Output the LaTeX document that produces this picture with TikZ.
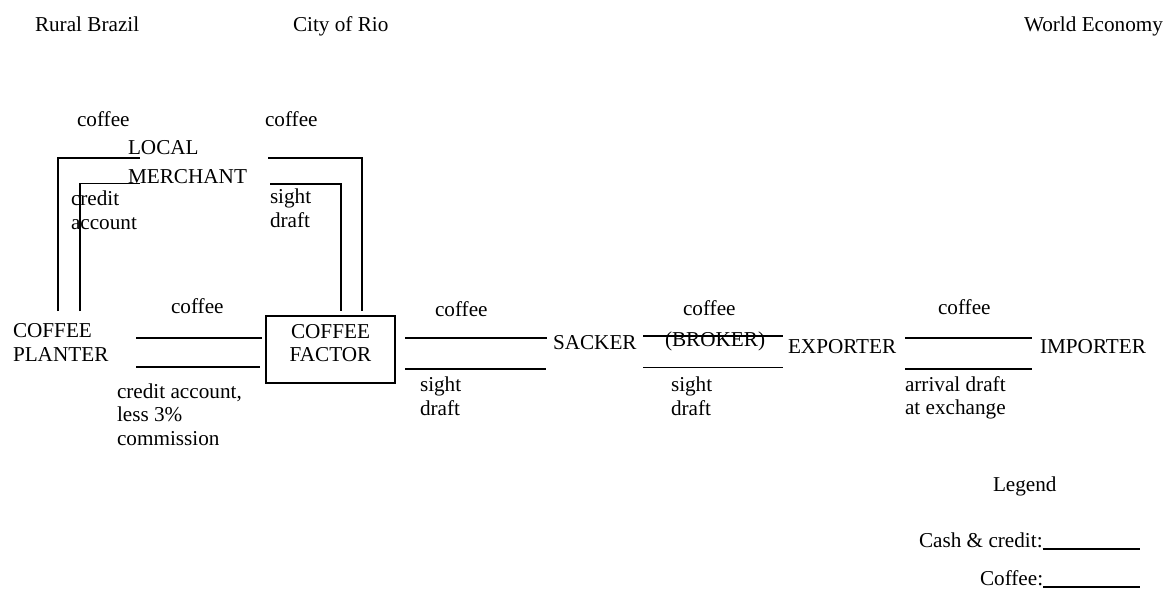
\documentclass[tikz,border=0pt]{standalone}
\usepackage{fontspec}
\setmainfont{Liberation Serif}
\begin{document}
\begin{tikzpicture}[x=1pt,y=-1pt,
  every node/.style={inner sep=0pt,outer sep=0pt,font=\fontsize{21.2}{23.3}\selectfont},
  lbl/.style={anchor=base west,align=left},
  flow/.style={line width=1.6pt,line cap=butt},
  factorbox/.style={draw,line width=1.6pt,minimum width=129pt,minimum height=67pt,
    align=center,text depth=13pt}]
\useasboundingbox (0,0) rectangle (1173,590);

% region headings
\node[lbl] (rural) at (35,31) {Rural Brazil};
\node[lbl] (rio)   at (293,31) {City of Rio};
\node[lbl] (world) at (1024,31) {World Economy};

% actors (multi-line labels are placed by the baseline of their last line)
\node[lbl] (planter)  at (13,361) {COFFEE\\PLANTER};
\node[factorbox] (factor) at (330.5,349.5) {COFFEE\\FACTOR};
\node[lbl] (merchant) at (128,183) {LOCAL\\[5.5pt]MERCHANT};
\node[lbl] (sacker)   at (553,349) {SACKER};
\node[lbl] (broker)   at (665,346.5) {(BROKER)};
\node[lbl] (exporter) at (788,353) {EXPORTER};
\node[lbl] (importer) at (1040,353) {IMPORTER};

% flow labels
\node[lbl] (cofA) at (77,126)  {coffee};
\node[lbl] (cofB) at (265,126) {coffee};
\node[lbl] (credA) at (71,229) {credit\\account};
\node[lbl] (sightA) at (270,227) {sight\\draft};
\node[lbl] (cofC) at (171,313) {coffee};
\node[lbl] (credB) at (117,445) {credit account,\\less 3\%\\commission};
\node[lbl] (cofD) at (435,316) {coffee};
\node[lbl] (sightB) at (420,415) {sight\\draft};
\node[lbl] (cofE) at (683,315) {coffee};
\node[lbl] (sightC) at (671,415) {sight\\draft};
\node[lbl] (cofF) at (938,314) {coffee};
\node[lbl] (arrival) at (905,414.5) {arrival draft\\at exchange};

% flow line end points
\coordinate (pfT1) at (136,337.7); \coordinate (pfT2) at (262,337.7);
\coordinate (pfB1) at (136,366.7); \coordinate (pfB2) at (260,366.7);
\coordinate (fsT1) at (405,337.7); \coordinate (fsT2) at (547,337.7);
\coordinate (fsB1) at (405,369);   \coordinate (fsB2) at (546,369);
\coordinate (seT1) at (643,336);   \coordinate (seT2) at (783,336);
\coordinate (seB1) at (643,367.3); \coordinate (seB2) at (783,367.3);
\coordinate (eiT1) at (905,337.7); \coordinate (eiT2) at (1032,337.7);
\coordinate (eiB1) at (905,369);   \coordinate (eiB2) at (1032,369);
\coordinate (pmO1) at (58,311);  \coordinate (pmO2) at (140,158);
\coordinate (pmI1) at (80,311);  \coordinate (pmI2) at (140,183.5);
\coordinate (mfO1) at (268,158); \coordinate (mfO2) at (362,311);
\coordinate (mfI1) at (270,184); \coordinate (mfI2) at (341,311);

% planter -- factor
\draw[flow] (pfT1) -- (pfT2);
\draw[flow] (pfB1) -- (pfB2);
% factor -- sacker
\draw[flow] (fsT1) -- (fsT2);
\draw[flow] (fsB1) -- (fsB2);
% sacker -- exporter (through the broker)
\draw[flow] (seT1) -- (seT2);
\draw[flow] (seB1) -- (seB2);
% exporter -- importer
\draw[flow] (eiT1) -- (eiT2);
\draw[flow] (eiB1) -- (eiB2);
% planter -- local merchant
\draw[flow] (pmO1) |- (pmO2);
\draw[flow] (pmI1) |- (pmI2);
% local merchant -- factor
\draw[flow] (mfO1) -| (mfO2);
\draw[flow] (mfI1) -| (mfI2);

% legend
\node[lbl] (legend) at (993,491) {Legend};
\node[lbl] (cash) at (919,547) {Cash \& credit:};
\node[lbl] (coffeekey) at (980,585) {Coffee:};
\coordinate (cashEnd) at (1140,549);
\coordinate (coffeeEnd) at (1140,587);
\draw[flow] (cash.base east) ++(0,2) -- (cashEnd);
\draw[flow] (coffeekey.base east) ++(0,2) -- (coffeeEnd);
\end{tikzpicture}
\end{document}
